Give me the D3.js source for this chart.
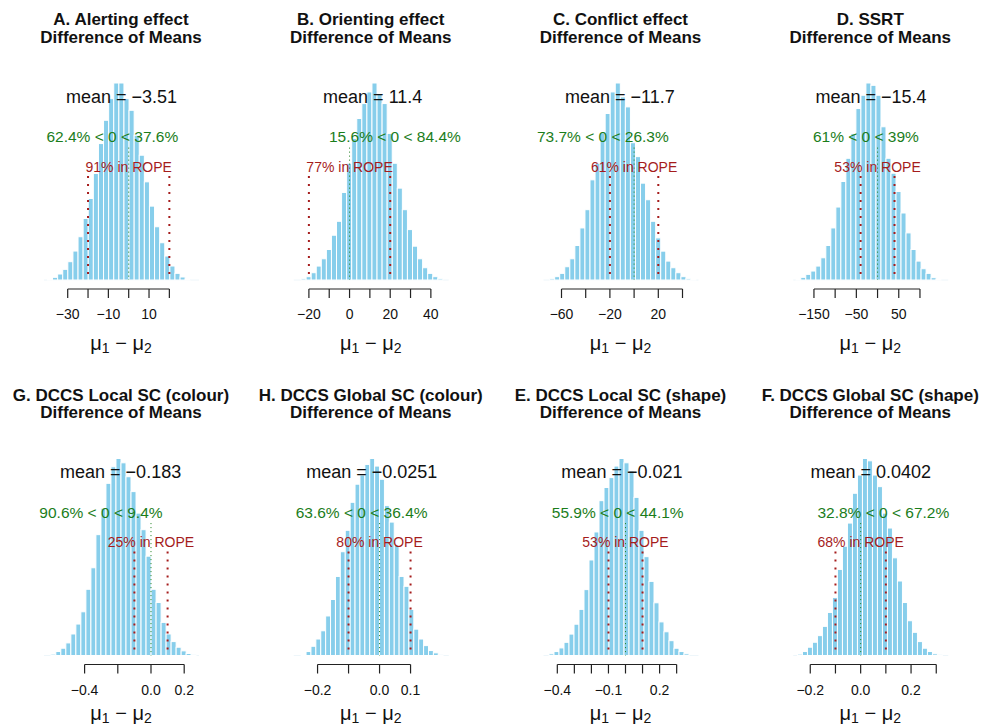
<!DOCTYPE html>
<html>
<head>
<meta charset="utf-8">
<script src="https://cdn.jsdelivr.net/npm/d3@7"></script>
<style>
  html, body { margin: 0; padding: 0; background: #ffffff; }
  svg { display: block; font-family: "Liberation Sans", Arial, Helvetica, sans-serif; }
</style>
</head>
<body>
<svg id="chart" width="983" height="727"></svg>
<script>
// ---------------- DATA ----------------
const panelTitles = [
  "A. Alerting effect", "B. Orienting effect", "C. Conflict effect", "D. SSRT",
  "G. DCCS Local SC (colour)", "H. DCCS Global SC (colour)",
  "E. DCCS Local SC (shape)", "F. DCCS Global SC (shape)"
];
const subTitle = "Difference of Means";
const means = [-3.51, 11.4, -11.7, -15.4, -0.183, -0.0251, -0.021, 0.0402];
const meanLabels = ["\u22123.51", "11.4", "\u221211.7", "\u221215.4", "\u22120.183", "\u22120.0251", "\u22120.021", "0.0402"];
const compValue = 0;
const pctBelow = ["62.4", "15.6", "73.7", "61", "90.6", "63.6", "55.9", "32.8"];
const pctAbove = ["37.6", "84.4", "26.3", "39", "9.4", "36.4", "44.1", "67.2"];
const ropeLow  = [-20, -20, -20, -40, -0.1, -0.1, -0.1, -0.1];
const ropeHigh = [ 20,  20,  20,  40,  0.1,  0.1,  0.1,  0.1];
const pctInRope = [91, 77, 61, 53, 25, 80, 53, 68];

// x-range of each plot region (data units)
const xLims = [
  [-41.66, 34.58], [-27.45, 48.8], [-74.88, 53.22], [-198.8, 166.7],
  [-0.6446, 0.2892], [-0.2768, 0.2232], [-0.481, 0.4282], [-0.2675, 0.3476]
];
// histogram bins: first break and bin width
const binStarts = [-39.97, -23.86, -69.83, -192.9, -0.6036, -0.2529, -0.4487, -0.2508];
const binWidths = [2.509, 2.492, 4.174, 11.82, 0.0302, 0.0158, 0.02933, 0.01984];

// bar heights (relative frequency)
const countsA = [3, 8, 18, 32, 55, 87, 130, 185, 245, 320, 410, 480, 545, 592, 592, 545, 510, 435, 375, 295, 222, 160, 112, 72, 42, 20, 9, 3];
const countsB = [4, 10, 22, 42, 64, 92, 135, 177, 264, 352, 427, 487, 532, 567, 594, 560, 532, 442, 352, 277, 212, 152, 102, 64, 37, 20, 10, 4];
const countsC = [4, 10, 20, 40, 64, 104, 157, 212, 302, 352, 444, 502, 567, 594, 552, 522, 414, 372, 292, 242, 177, 127, 87, 57, 37, 22, 10, 4, 2];
const countsD = [2, 8, 17, 27, 42, 67, 104, 157, 220, 297, 367, 442, 517, 557, 594, 587, 557, 462, 367, 322, 267, 202, 142, 92, 57, 34, 20, 7, 2];
const countsG = [4, 12, 22, 38, 65, 95, 132, 200, 265, 365, 445, 520, 570, 595, 582, 540, 495, 430, 380, 300, 200, 160, 100, 65, 42, 25, 14, 6, 2];
const countsH = [3, 12, 28, 50, 75, 120, 170, 240, 315, 380, 465, 520, 548, 580, 598, 575, 535, 455, 405, 335, 240, 210, 140, 80, 50, 30, 15, 8, 2];
const countsE = [5, 12, 23, 40, 65, 95, 140, 200, 290, 375, 470, 510, 540, 575, 598, 585, 560, 480, 380, 300, 225, 160, 102, 72, 45, 22, 12, 5];
const countsF = [4, 12, 25, 40, 60, 88, 130, 175, 260, 330, 400, 490, 545, 595, 588, 545, 510, 430, 385, 295, 225, 160, 105, 70, 42, 22, 12, 5, 2];
const allCounts = [countsA, countsB, countsC, countsD, countsG, countsH, countsE, countsF];

const tickValues = [
  [-30, -20, -10, 0, 10, 20],
  [-20, -10, 0, 10, 20, 30, 40],
  [-60, -40, -20, 0, 20, 40],
  [-150, -100, -50, 0, 50, 100],
  [-0.4, -0.2, 0, 0.2],
  [-0.2, -0.1, 0, 0.1],
  [-0.4, -0.3, -0.2, -0.1, 0, 0.1, 0.2, 0.3],
  [-0.2, -0.1, 0, 0.1, 0.2, 0.3]
];
const tickLabels = [
  ["\u221230", "", "\u221210", "", "10", ""],
  ["\u221220", "", "0", "", "20", "", "40"],
  ["\u221260", "", "\u221220", "", "20", ""],
  ["\u2212150", "", "\u221250", "", "50", ""],
  ["\u22120.4", "", "0.0", "0.2"],
  ["\u22120.2", "", "0.0", "0.1"],
  ["\u22120.4", "", "", "\u22120.1", "", "", "0.2", ""],
  ["\u22120.2", "", "0.0", "", "0.2", ""]
];

// ---------------- LAYOUT ----------------
const svg = d3.select("#chart");
const colCenter0 = 121, colStep = 249.75, rowStep = 375.5;
const plotLeftOff = -77, plotRightOff = 78;
const baseY = 280, peakY = 83, axisY = 289, tickLen = 9;
const tickLabelY = 319, xLabelY = 350, title1Y = 25, title2Y = 42.5;
const svgH = 727;
const barColor = "#87CEEB", greenCol = "#1b7d1b", redCol = "#a51c1c";

panelTitles.forEach((title, p) => {
  const col = p % 4, row = Math.floor(p / 4);
  const cx = colCenter0 + col * colStep;
  const dy = row * rowStep;
  const g = svg.append("g").attr("transform", `translate(0,${dy})`);

  const counts = allCounts[p];
  const x = d3.scaleLinear().domain(xLims[p]).range([cx + plotLeftOff, cx + plotRightOff]);
  const y = d3.scaleLinear().domain([0, d3.max(counts)]).range([baseY, peakY]);
  const maxC = d3.max(counts);

  // titles
  g.append("text").attr("x", cx).attr("y", title1Y).attr("text-anchor", "middle")
    .attr("font-size", 17).attr("font-weight", "bold").attr("fill", "#111").text(title);
  g.append("text").attr("x", cx).attr("y", title2Y).attr("text-anchor", "middle")
    .attr("font-size", 17).attr("font-weight", "bold").attr("fill", "#111").text(subTitle);

  // faint baseline
  g.append("line").attr("x1", x(xLims[p][0])).attr("x2", x(xLims[p][1]))
    .attr("y1", y(0)).attr("y2", y(0)).attr("stroke", "#eef6fa").attr("stroke-width", 1);

  // bars
  const bins = counts.map((c, i) => ({ x0: binStarts[p] + i * binWidths[p], x1: binStarts[p] + (i + 1) * binWidths[p], c }));
  g.selectAll("rect.bar").data(bins).enter().append("rect").attr("class", "bar")
    .attr("x", d => x(d.x0)).attr("width", d => x(d.x1) - x(d.x0))
    .attr("y", d => y(d.c)).attr("height", d => y(0) - y(d.c))
    .attr("fill", barColor).attr("stroke", "#ffffff").attr("stroke-width", 1);

  // comparison value line (green, dotted)
  g.append("line").attr("x1", x(compValue)).attr("x2", x(compValue))
    .attr("y1", y(0.96 * 0.7 * maxC)).attr("y2", y(0))
    .attr("stroke", greenCol).attr("stroke-width", 1).attr("stroke-dasharray", "1,3");

  // ROPE lines (red, dotted)
  [ropeLow[p], ropeHigh[p]].forEach(v => {
    g.append("line").attr("x1", x(v)).attr("x2", x(v))
      .attr("y1", y(0.96 * 0.55 * maxC)).attr("y2", y(0))
      .attr("stroke", redCol).attr("stroke-width", 2).attr("stroke-dasharray", "2,6");
  });

  // mean text
  g.append("text").attr("x", x(means[p])).attr("y", y(0.9 * maxC)).attr("text-anchor", "middle")
    .attr("font-size", 18).attr("fill", "#111").text("mean = " + meanLabels[p]);

  // comparison text
  const ct = g.append("text").attr("y", y(0.7 * maxC)).attr("font-size", 15.5).attr("fill", greenCol)
    .text(`${pctBelow[p]}% < ${compValue} < ${pctAbove[p]}%`);
  const w = ct.node().getComputedTextLength();
  ct.attr("x", x(compValue) - w * (+pctBelow[p] / 100));

  // ROPE text
  g.append("text").attr("x", x((ropeLow[p] + ropeHigh[p]) / 2)).attr("y", y(0.55 * maxC))
    .attr("text-anchor", "middle").attr("font-size", 14).attr("fill", redCol)
    .text(`${pctInRope[p]}% in ROPE`);

  // x axis
  const tv = tickValues[p];
  g.append("line").attr("x1", x(tv[0])).attr("x2", x(tv[tv.length - 1]))
    .attr("y1", axisY).attr("y2", axisY).attr("stroke", "#222").attr("stroke-width", 1.2);
  tv.forEach((v, i) => {
    g.append("line").attr("x1", x(v)).attr("x2", x(v)).attr("y1", axisY).attr("y2", axisY + tickLen)
      .attr("stroke", "#222").attr("stroke-width", 1.2);
    if (tickLabels[p][i]) {
      g.append("text").attr("x", x(v)).attr("y", tickLabelY).attr("text-anchor", "middle")
        .attr("font-size", 14).attr("fill", "#111").text(tickLabels[p][i]);
    }
  });

  // x label  mu1 - mu2 (kept inside the picture for the bottom row)
  const labY = Math.min(xLabelY, svgH - dy - 7.5);
  const xl = g.append("text").attr("x", cx).attr("y", labY).attr("text-anchor", "middle")
    .attr("font-size", 20).attr("fill", "#111");
  xl.append("tspan").text("\u03BC");
  xl.append("tspan").attr("font-size", 14).attr("dy", 3).text("1");
  xl.append("tspan").attr("dy", -3).text(" \u2212 \u03BC");
  xl.append("tspan").attr("font-size", 14).attr("dy", 3).text("2");
});
</script>
</body>
</html>
